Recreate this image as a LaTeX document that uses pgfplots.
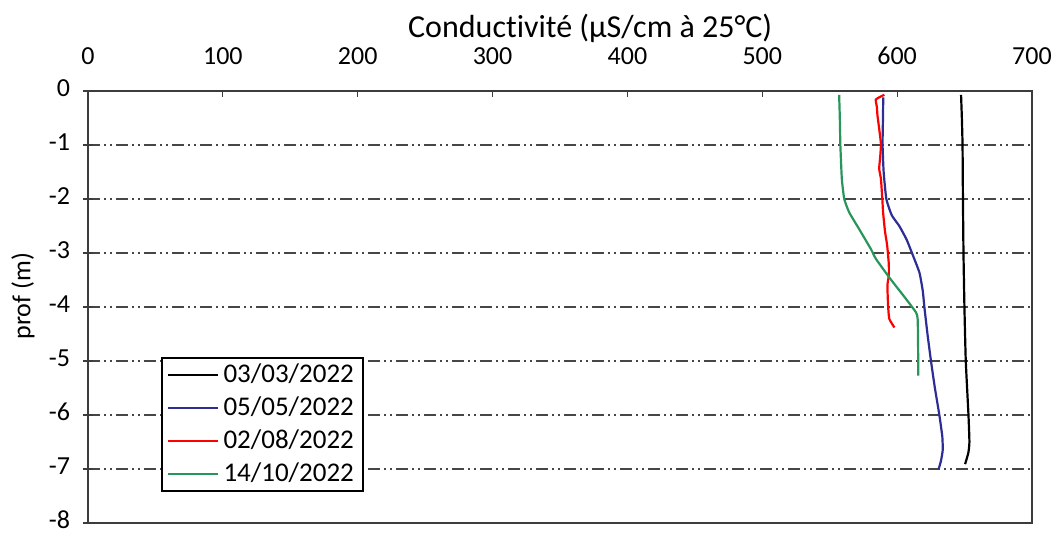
\documentclass[border=0pt]{standalone}
\usepackage{fontspec}
\setmainfont{Carlito}[Ligatures=NoCommon]
\usepackage{pgfplots}
\pgfplotsset{compat=1.18}

\definecolor{cblue}{RGB}{45,45,150}
\definecolor{cred}{RGB}{255,0,0}
\definecolor{cgreen}{RGB}{40,150,90}
\definecolor{gridc}{RGB}{70,70,70}
\definecolor{axc}{RGB}{60,60,60}

\begin{document}
\begin{tikzpicture}
\path[use as bounding box] (-44pt,-5pt) rectangle (485.5pt,261.5pt);
\begin{axis}[
  at={(0,0)}, anchor=south west,
  scale only axis, width=472pt, height=216pt,
  xmin=0, xmax=700, ymin=-8, ymax=0,
  xtick={0,100,...,700},
  xticklabels={0,100,200,300,400,500,600,700},
  ytick={-8,-7,...,0},
  yticklabels={-8,-7,-6,-5,-4,-3,-2,-1,0},
  xtick pos=right, xticklabel pos=right,
  ytick pos=left,
  tick align=center,
  major tick length=5pt,
  xtick style={yshift=-1.5pt, /pgfplots/major tick length=3pt, draw=axc, line width=0.6pt},
  ytick style={draw=axc, line width=0.6pt},
  axis line style={draw=axc, line width=0.7pt},
  ymajorgrids,
  major grid style={draw=gridc, line width=0.75pt, dash pattern=on 6pt off 2pt on 1pt off 2pt on 1pt off 2pt},
  tick label style={font=\fontsize{13}{15}\selectfont, text=black},
  xticklabel style={yshift=7pt},
  yticklabel style={xshift=-3pt, yshift=1.5pt},
  xlabel={Conductivité (µS/cm à 25°C)},
  xlabel style={font=\fontsize{16}{19}\selectfont, at={(axis description cs:0.532,1)}, anchor=center, yshift=31.5pt},
  ylabel={prof (m)},
  ylabel style={font=\fontsize{13}{15}\selectfont, at={(axis description cs:0,0.525)}, anchor=center, yshift=32.5pt},
  legend style={at={(axis description cs:0.0774,0.384)}, anchor=north west,
    draw=black, line width=1.1pt, fill=white, font=\fontsize{13.5}{16}\selectfont,
    row sep=1.6pt, inner xsep=2.5pt, inner ysep=1pt},
  legend cell align=left,
  legend image code/.code={\draw[#1, line width=1.2pt] (0pt,0pt) -- (25pt,0pt);},
  every axis plot/.append style={line width=1.1pt, smooth, tension=0.3},
]
\addplot[black] coordinates {
(647.4,-0.07) (648.0,-0.5) (648.5,-1) (648.8,-2) (649.2,-3) (649.9,-4) (650.9,-5) (652.9,-6) (653.6,-6.5) (652.8,-6.7) (650.4,-6.91)
};
\addlegendentry{03/03/2022}
\addplot[cblue] coordinates {
(589.7,-0.12) (589.5,-0.5) (589.2,-1) (590,-1.5) (592,-2) (596,-2.3) (601.6,-2.5) (607,-2.75) (611,-3.0) (616.5,-3.36) (619,-3.7) (620.2,-4) (622.5,-4.5) (625.1,-5) (628,-5.5) (631.3,-6) (633.5,-6.4) (633.8,-6.65) (632.5,-6.85) (630.8,-7)
};
\addlegendentry{05/05/2022}
\addplot[cred] coordinates {
(590.5,-0.07) (588,-0.1) (584.2,-0.16) (585,-0.3) (585.4,-0.45) (586.7,-0.7) (588,-0.98) (587.5,-1.2) (586.7,-1.44) (588,-1.63) (589,-2) (589.6,-2.25) (591,-2.6) (592.6,-2.86) (593.8,-3.2) (593.8,-3.42) (592.8,-3.6) (593.3,-3.98) (594.2,-4.22) (598,-4.38)
};
\addlegendentry{02/08/2022}
\addplot[cgreen] coordinates {
(557,-0.07) (557.5,-0.5) (557.9,-1) (559,-1.63) (560.8,-2) (564.5,-2.25) (571.9,-2.56) (580.6,-2.93) (584.3,-3.11) (595,-3.48) (605,-3.8) (614,-4.1) (615.2,-4.22) (615.5,-4.6) (615.7,-5.27)
};
\addlegendentry{14/10/2022}
\end{axis}
\end{tikzpicture}
\end{document}
